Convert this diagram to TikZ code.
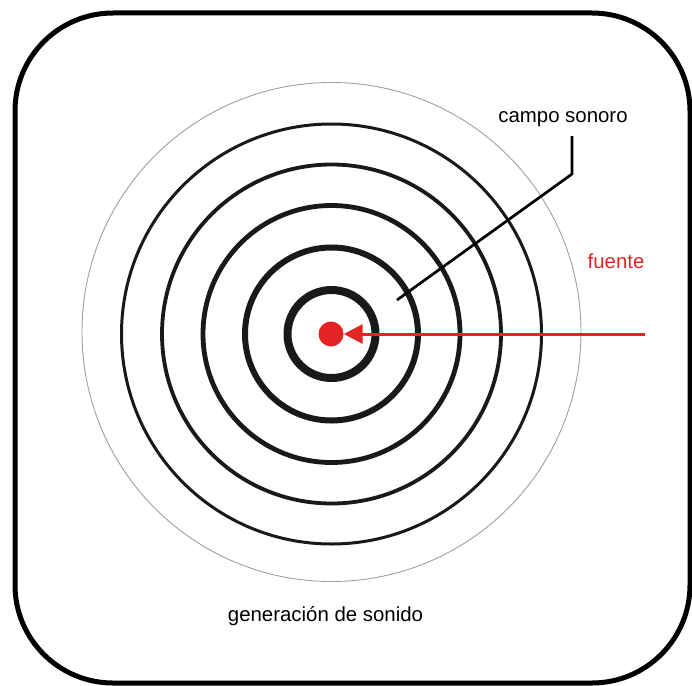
\documentclass[tikz,border=0pt]{standalone}
\usepackage{fontspec}
\setmainfont{Liberation Sans}
\usetikzlibrary{arrows.meta}
\definecolor{srcred}{RGB}{228,36,36}
\tikzset{
  ring/.style={draw=black!90, fill=none},
  lbl/.style={anchor=base, inner sep=0pt, font=\fontsize{20.4}{24}\selectfont},
  leader/.style={draw=black, line width=2.7pt, line join=miter},
  srcarrow/.style={draw=srcred, line width=3pt, -{Triangle[length=19pt,width=19pt]}}
}
\begin{document}
\begin{tikzpicture}[x=1pt,y=-1pt]
\useasboundingbox (0,0) rectangle (692,685);
% frame
\draw[line width=5pt, rounded corners=98pt] (15,13) rectangle (690,683);
% field circles
\draw[gray!75, line width=0.9pt] (331.5,332) circle (249.5);
\draw[ring, line width=3pt] (331.5,334) circle (210);
\draw[ring, line width=3.8pt] (331.5,334) circle (169.5);
\draw[ring, line width=4.8pt] (331.5,334) circle (128.5);
\draw[ring, line width=6pt] (331.5,334) circle (86.5);
\draw[ring, line width=8pt] (331.5,334) circle (44);
% source
\node[circle, fill=srcred, minimum size=25pt, inner sep=0pt] (src) at (331,334) {};
\coordinate (arrowstart) at (645,334);
\draw[srcarrow] (arrowstart) -- (src);
% labels
\node[lbl] (campo) at (563,122) {campo sonoro};
\node[lbl, text=srcred] (fuente) at (616,268) {fuente};
\node[lbl] (gen) at (325.5,621) {generación de sonido};
% leader line
\coordinate (lead1) at (572,136);
\coordinate (lead2) at (572,174);
\coordinate (lead3) at (397,300);
\draw[leader] (lead1) -- (lead2) -- (lead3);
\end{tikzpicture}
\end{document}
